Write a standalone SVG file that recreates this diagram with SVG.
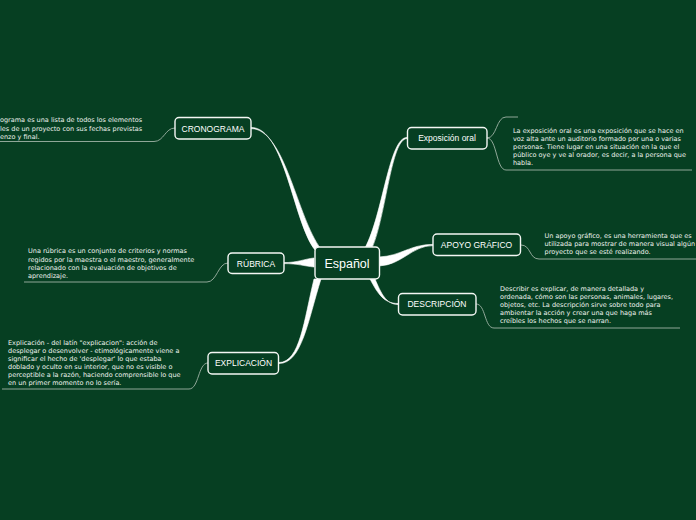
<svg xmlns="http://www.w3.org/2000/svg" width="696" height="520" viewBox="0 0 696 520">
<style>
.bg{fill:#063f22}
.node rect{fill:#063f22;stroke:#f4f7f4;stroke-width:1.4}
.lbl{font-family:"Liberation Sans",Arial,sans-serif;font-size:8.5px;fill:#ffffff;text-anchor:middle}
.main{font-size:12.5px}
.note{font-family:"DejaVu Sans",Verdana,sans-serif;font-size:6.5px;fill:#eef3ee}
.branch{fill:#ffffff;stroke:#ffffff;stroke-width:0.6}
.leaf{fill:none;stroke:#9fb3a6;stroke-width:0.9}
</style>
<rect class="bg" x="0" y="0" width="696" height="520"/>
<g id="connectors">
<path class="branch" d="M251,127.4 C285,127.4 293,222 315,250 L321,249 C297,218 285,128.6 251,128.6 Z"/>
<path class="branch" d="M407,137.4 C389,137.4 383,214 365,248 L372,248 C386,216 391,138.6 407,138.6 Z"/>
<path class="branch" d="M433,244.4 C410,244.4 401,256 379,257 L379,266 C402,265 412,245.6 433,245.6 Z"/>
<path class="branch" d="M398,303.5 C384,303.5 378,294 370,279 L375,279 C381,293 386,304.5 398,304.5 Z"/>
<path class="branch" d="M284,262.6 C298,262.6 304,259 314,258 L314,267 C304,266 298,263.6 284,263.6 Z"/>
<path class="branch" d="M279,362.5 C300,362.5 304,320 314,279 L321,279 C308,320 302,363.5 279,363.5 Z"/>
<path class="leaf" d="M175,128 C165,128 164,141.5 154,141.5 L0,141.5"/>
<path class="leaf" d="M228,263 C218,263 217,282 207,282 L24,282"/>
<path class="leaf" d="M208,363 C198,363 199,389 189,389 L2,389"/>
<path class="leaf" d="M487,138 C497,138 496,117 506,117 L518,117"/>
<path class="leaf" d="M487,138 C497,138 496,170 506,170 L692,170"/>
<path class="leaf" d="M521,245 C531,245 529,259 539,259 L696,259"/>
<path class="leaf" d="M476,304 C486,304 484,328 494,328 L680,328"/>
</g>
<g id="espanol" class="node">
<rect x="315" y="247" width="64.5" height="32" rx="4"/>
<text class="lbl main" x="347" y="267.5">Español</text>
</g>
<g id="cronograma" class="node">
<rect x="175" y="117.5" width="76" height="21.5" rx="4"/>
<text class="lbl" x="213" y="131.5">CRONOGRAMA</text>
<text class="note" x="0" y="122.3">ograma es una lista de todos los elementos</text>
<text class="note" x="0" y="130.6">les de un proyecto con sus fechas previstas</text>
<text class="note" x="0" y="139">enzo y final.</text>
</g>
<g id="rubrica" class="node">
<rect x="228" y="253" width="56" height="20.5" rx="4"/>
<text class="lbl" x="256" y="266.5">RÚBRICA</text>
<text class="note" x="28" y="253.3">Una rúbrica es un conjunto de criterios y normas</text>
<text class="note" x="28" y="261.6">regidos por la maestra o el maestro, generalmente</text>
<text class="note" x="28" y="269.9">relacionado con la evaluación de objetivos de</text>
<text class="note" x="28" y="278.2">aprendizaje.</text>
</g>
<g id="explicacion" class="node">
<rect x="208" y="352.5" width="70.5" height="21.5" rx="4"/>
<text class="lbl" x="243.5" y="366.3">EXPLICACIÓN</text>
<text class="note" x="8" y="345">Explicación - del latín "explicacion": acción de</text>
<text class="note" x="8" y="353">desplegar o desenvolver - etimológicamente viene a</text>
<text class="note" x="8" y="361">significar el hecho de 'desplegar' lo que estaba</text>
<text class="note" x="8" y="369">doblado y oculto en su interior, que no es visible o</text>
<text class="note" x="8" y="377">perceptible a la razón, haciendo comprensible lo que</text>
<text class="note" x="8" y="385">en un primer momento no lo sería.</text>
</g>
<g id="exposicion" class="node">
<rect x="407.5" y="127.5" width="79.5" height="21.5" rx="4"/>
<text class="lbl" x="447" y="141.3">Exposición oral</text>
<text class="note" x="513" y="133">La exposición oral es una exposición que se hace en</text>
<text class="note" x="513" y="140.9">voz alta ante un auditorio formado por una o varias</text>
<text class="note" x="513" y="148.8">personas. Tiene lugar en una situación en la que el</text>
<text class="note" x="513" y="156.7">público oye y ve al orador, es decir, a la persona que</text>
<text class="note" x="513" y="164.6">habla.</text>
</g>
<g id="apoyo" class="node">
<rect x="433" y="234" width="87.5" height="21.5" rx="4"/>
<text class="lbl" x="476.5" y="248">APOYO GRÁFICO</text>
<text class="note" x="544.5" y="238.3">Un apoyo gráfico, es una herramienta que es</text>
<text class="note" x="544.5" y="246">utilizada para mostrar de manera visual algún</text>
<text class="note" x="544.5" y="253.6">proyecto que se esté realizando.</text>
</g>
<g id="descripcion" class="node">
<rect x="398.5" y="293.5" width="77.5" height="21.5" rx="4"/>
<text class="lbl" x="437" y="307.3">DESCRIPCIÓN</text>
<text class="note" x="500" y="291.3">Describir es explicar, de manera detallada y</text>
<text class="note" x="500" y="299.1">ordenada, cómo son las personas, animales, lugares,</text>
<text class="note" x="500" y="306.9">objetos, etc. La descripción sirve sobre todo para</text>
<text class="note" x="500" y="314.7">ambientar la acción y crear una que haga más</text>
<text class="note" x="500" y="322.5">creíbles los hechos que se narran.</text>
</g>
</svg>
